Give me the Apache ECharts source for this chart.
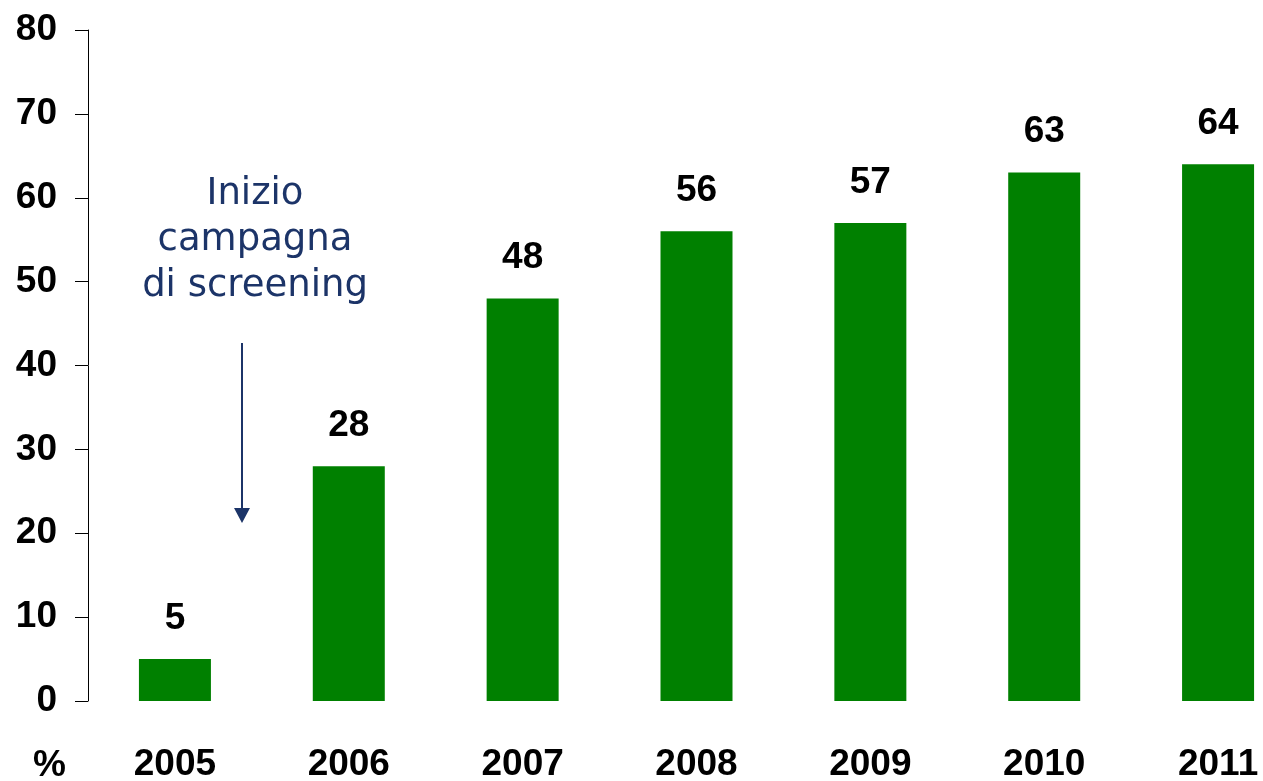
<!DOCTYPE html>
<html>
<head>
<meta charset="utf-8">
<script src="https://cdn.jsdelivr.net/npm/echarts@6/dist/echarts.min.js"></script>
<style>
  html, body { margin: 0; padding: 0; background: #fff; }
  #chart { width: 1263px; height: 781px; }
</style>
</head>
<body>
<div id="chart"></div>
<script>
// data
const years = ['2005', '2006', '2007', '2008', '2009', '2010', '2011']
const percent = [5, 28, 48, 56, 57, 63, 64]
const yTicks = { min: 0, max: 80, interval: 10 }
const noteLines = ['Inizio', 'campagna', 'di screening']

const green = '#008000'
const navy = '#1c3468'
const boldFont = 'Liberation Sans, Arial, sans-serif'

const chart = echarts.init(document.getElementById('chart'))

chart.setOption({
    animation: false,
    grid: { left: 88, top: 30, right: -42, bottom: 80, outerBoundsMode: 'none', containLabel: false },
    xAxis: {
        type: 'category',
        data: years,
        axisLine: { show: false },
        axisTick: { show: false },
        axisLabel: {
            margin: 45,
            color: '#000',
            fontSize: 37,
            fontWeight: 'bold',
            fontFamily: boldFont,
        },
    },
    yAxis: {
        type: 'value',
        min: yTicks.min,
        max: yTicks.max,
        interval: yTicks.interval,
        splitLine: { show: false },
        axisLine: { show: true, lineStyle: { color: '#000', width: 1 } },
        axisTick: { show: true, length: 13, lineStyle: { color: '#000' } },
        axisLabel: {
            margin: 31,
            color: '#000',
            fontSize: 37,
            fontWeight: 'bold',
            fontFamily: boldFont,
        },
    },
    series: [{
        type: 'bar',
        data: percent,
        barWidth: 72,
        itemStyle: { color: green },
        label: {
            show: true,
            position: 'top',
            distance: 22,
            color: '#000',
            fontSize: 37,
            fontWeight: 'bold',
            fontFamily: boldFont,
        },
    }],
    graphic: [
        {
            type: 'text',
            left: 33,
            top: 747,
            style: {
                text: '%',
                fill: '#000',
                font: 'bold 37px ' + boldFont,
            },
        },
        {
            type: 'text',
            x: 255,
            y: 171,
            style: {
                text: noteLines.join('\n'),
                fill: navy,
                font: '37px DejaVu Sans, Verdana, sans-serif',
                lineHeight: 46,
                align: 'center',
            },
        },
        {
            type: 'line',
            shape: { x1: 242, y1: 343, x2: 242, y2: 512 },
            style: { stroke: navy, lineWidth: 2 },
        },
        {
            type: 'polygon',
            shape: { points: [[234, 508], [250, 508], [242, 523]] },
            style: { fill: navy },
        },
    ],
})
</script>
</body>
</html>
